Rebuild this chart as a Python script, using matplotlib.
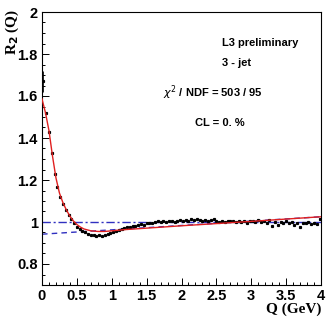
import numpy as np
import matplotlib
matplotlib.use("Agg")
import matplotlib.pyplot as plt
from matplotlib.ticker import MultipleLocator

# ── data (bin centres, 0.04 GeV bins) ────────────────────────────────
q_bins = np.arange(100) * 0.04 + 0.02
r2_vals = [
    1.670, 1.520, 1.430, 1.330, 1.230, 1.165, 1.120, 1.085, 1.058, 1.035,
    1.013, 0.993, 0.978, 0.966, 0.958, 0.950, 0.944, 0.940, 0.936, 0.934,
    0.936, 0.932, 0.938, 0.941, 0.946, 0.950, 0.955, 0.962, 0.966, 0.970,
    0.975, 0.978, 0.983, 0.981, 0.987, 0.990, 0.986, 0.993, 0.997, 0.995,
    1.002, 1.004, 0.999, 1.005, 1.002, 1.007, 1.004, 0.999, 1.006, 1.008,
    1.003, 1.009, 1.006, 1.012, 1.008, 1.013, 1.010, 1.007, 1.011, 1.006,
    1.009, 1.013, 1.005, 1.002, 1.006, 1.000, 1.004, 1.007, 1.003, 0.999,
    1.005, 1.002, 1.006, 0.997, 1.003, 1.005, 1.001, 1.008, 0.998, 1.004,
    0.996, 1.010, 0.981, 0.999, 0.986, 1.002, 0.993, 1.004, 0.997, 0.999,
    0.988, 0.997, 0.976, 0.996, 0.993, 0.998, 0.992, 0.995, 0.990, 1.012,
]
r2_err = [0.05] + [0.004] * 99

# fit curve
fit_q = [0.0, 0.05, 0.10, 0.15, 0.20, 0.25, 0.30, 0.35, 0.40, 0.45, 0.50,
         0.55, 0.60, 0.70, 0.80, 0.90, 1.00, 1.20, 2.00, 3.00, 4.00]
fit_r = [1.586, 1.520, 1.435, 1.315, 1.210, 1.138, 1.092, 1.057, 1.028,
         1.005, 0.988, 0.976, 0.967, 0.958, 0.955, 0.955, 0.958, 0.964,
         0.982, 1.003, 1.025]

# long-range background (dashed) and unity (dash-dot)
bkg_q = [0.0, 4.0]
bkg_r = [0.942, 1.025]
one_q = [0.0, 4.0]
one_r = [1.0, 1.0]

# ── figure ────────────────────────────────────────────────────────────
fig = plt.figure(figsize=(3.34, 3.17), dpi=100)
ax = fig.add_axes([42 / 334, 1 - 285 / 317, 279 / 334, 273 / 317])

ax.plot(one_q, one_r, color="#3030c0", lw=1.0, ls=(0, (6, 2, 1.5, 2)))
ax.plot(bkg_q, bkg_r, color="#3030c0", lw=1.0, ls=(0, (4, 3)))
ax.errorbar(q_bins, r2_vals, yerr=r2_err, fmt="s", ms=1.3, color="black",
            ecolor="black", elinewidth=0.6, capsize=0, zorder=3)
ax.plot(fit_q, fit_r, color="#e02020", lw=1.0, zorder=4)

ax.set_xlim(0, 4)
ax.set_ylim(0.7, 2.0)
ax.xaxis.set_major_locator(MultipleLocator(0.5))
ax.xaxis.set_minor_locator(MultipleLocator(0.1))
ax.yaxis.set_major_locator(MultipleLocator(0.2))
ax.yaxis.set_minor_locator(MultipleLocator(0.05))
ax.tick_params(which="both", direction="in", top=False, right=False,
               width=0.7)
ax.tick_params(which="major", length=5)
ax.tick_params(which="minor", length=2.5)
ax.set_yticks([0.8, 1.0, 1.2, 1.4, 1.6, 1.8, 2.0])
ax.set_yticklabels(["0.8", "1", "1.2", "1.4", "1.6", "1.8", "2"])
ax.set_xticks([0, 0.5, 1, 1.5, 2, 2.5, 3, 3.5, 4])
ax.set_xticklabels(["0", "0.5", "1", "1.5", "2", "2.5", "3", "3.5", "4"])
for lab in ax.get_xticklabels() + ax.get_yticklabels():
    lab.set_fontfamily("Liberation Sans")
    lab.set_fontweight("bold")
    lab.set_fontsize(10.5)
ax.tick_params(axis="x", pad=3)
ax.tick_params(axis="y", pad=3)
for s in ax.spines.values():
    s.set_linewidth(0.8)

fig.text(321 / 334, 1 - 309 / 317, "Q (GeV)", ha="right", va="center",
         family="Liberation Serif", weight="bold", fontsize=11)
fig.text(12 / 334, 1 - 9 / 317, r"R$_{\mathbf{2}}$ (Q)", ha="center",
         va="top", rotation=90, family="Liberation Serif", weight="bold",
         fontsize=11)

txt = dict(family="Liberation Sans", weight="bold", fontsize=8,
           transform=fig.transFigure, va="center")
fig.text(222 / 334, 1 - 43 / 317, "L3 preliminary", **txt)
fig.text(222 / 334, 1 - 63 / 317, "3 - jet", **txt)
fig.text(163 / 334, 1 - 93 / 317, r"$\chi^2$ / NDF = 503 / 95", **txt)
fig.text(195 / 334, 1 - 123 / 317, "CL = 0. %", **txt)

fig.savefig("out.png", dpi=100)
